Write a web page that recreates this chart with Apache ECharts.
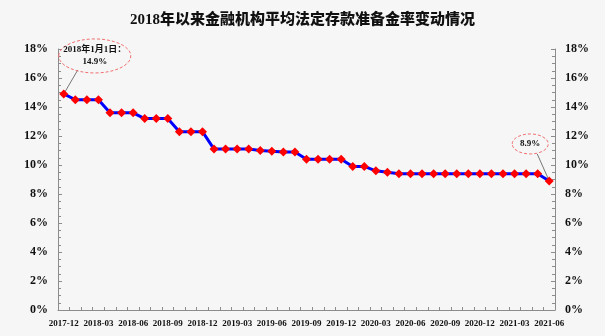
<!DOCTYPE html>
<html>
<head>
<meta charset="utf-8">
<script src="https://cdn.jsdelivr.net/npm/echarts@6/dist/echarts.min.js"></script>
<style>
  html, body { margin: 0; padding: 0; background: #f6f6f6; }
  #chart { width: 605px; height: 336px; }
</style>
</head>
<body>
<div id="chart"></div>
<script>
// Monthly average statutory reserve requirement ratio (%), Dec 2017 – Jun 2021
const months = [
  '2017-12', '2018-01', '2018-02', '2018-03', '2018-04', '2018-05', '2018-06',
  '2018-07', '2018-08', '2018-09', '2018-10', '2018-11', '2018-12',
  '2019-01', '2019-02', '2019-03', '2019-04', '2019-05', '2019-06',
  '2019-07', '2019-08', '2019-09', '2019-10', '2019-11', '2019-12',
  '2020-01', '2020-02', '2020-03', '2020-04', '2020-05', '2020-06',
  '2020-07', '2020-08', '2020-09', '2020-10', '2020-11', '2020-12',
  '2021-01', '2021-02', '2021-03', '2021-04', '2021-05', '2021-06'
];
const rrr = [
  14.9,
  14.5, 14.5, 14.5,
  13.6, 13.6, 13.6,
  13.2, 13.2, 13.2,
  12.3, 12.3, 12.3,
  11.1, 11.1, 11.1, 11.1,
  11.0, 10.95, 10.9, 10.9,
  10.4, 10.4, 10.4, 10.4,
  9.9, 9.9, 9.6, 9.5, 9.4,
  9.4, 9.4, 9.4, 9.4, 9.4, 9.4,
  9.4, 9.4, 9.4, 9.4, 9.4, 9.4,
  8.9
];
const yTicks = { min: 0, max: 18, step: 2 };
const titleText = '2018年以来金融机构平均法定存款准备金率变动情况';
const firstNote = '2018年1月1日：\n14.9%';
const lastNote = '8.9%';

const serif = '"Liberation Serif", "Times New Roman", "Noto Sans CJK SC", serif';
const axisGray = '#8c8c8c';

function valueAxis(pos) {
  return {
    type: 'value',
    position: pos,
    min: yTicks.min,
    max: yTicks.max,
    interval: yTicks.step,
    axisLine: { show: true, lineStyle: { color: axisGray, width: 1 } },
    axisTick: { show: true, inside: true, length: 4, lineStyle: { color: axisGray } },
    minorTick: { show: true, splitNumber: 4, length: 3, lineStyle: { color: axisGray } },
    splitLine: { show: false },
    axisLabel: {
      formatter: '{value}%',
      color: '#111',
      fontFamily: serif,
      fontSize: 12,
      fontWeight: 'bold',
      margin: 10
    }
  };
}

const chart = echarts.init(document.getElementById('chart'), null, { renderer: 'canvas' });

chart.setOption({
  backgroundColor: '#f6f6f6',
  animation: false,
  title: {
    text: titleText,
    left: 'center',
    top: 8,
    textStyle: { fontFamily: serif, fontSize: 15, fontWeight: 900, color: '#111' }
  },
  grid: { left: 58, right: 50, top: 49, bottom: 26, containLabel: false },
  xAxis: {
    type: 'category',
    data: months,
    boundaryGap: true,
    axisLine: { show: true, lineStyle: { color: axisGray, width: 1 } },
    axisTick: { show: true, inside: true, length: 3, interval: 0, lineStyle: { color: axisGray } },
    axisLabel: {
      interval: 2,
      color: '#111',
      fontFamily: serif,
      fontSize: 9,
      fontWeight: 'bold',
      margin: 9
    }
  },
  yAxis: [valueAxis('left'), valueAxis('right')],
  series: [{
    type: 'line',
    data: rrr,
    yAxisIndex: 0,
    symbol: 'diamond',
    symbolSize: 9,
    showAllSymbol: true,
    lineStyle: { color: '#0000ff', width: 3 },
    itemStyle: { color: '#ff0000', borderWidth: 0 }
  }]
});

// Callout bubbles anchored to the first and last data points
function callout(idx, dx, dy, rx, ry, lx, ly, text) {
  const p = chart.convertToPixel({ seriesIndex: 0 }, [idx, rrr[idx]]);
  const cx = p[0] + dx, cy = p[1] + dy;
  return [
    {
      type: 'line',
      shape: { x1: p[0], y1: p[1], x2: p[0] + lx, y2: p[1] + ly },
      style: { stroke: '#555', lineWidth: 0.8 },
      z: 1
    },
    {
      type: 'ellipse',
      shape: { cx: cx, cy: cy, rx: rx, ry: ry },
      style: { fill: 'rgba(0,0,0,0)', stroke: '#f07070', lineWidth: 1, lineDash: [3, 2] },
      z: 2
    },
    {
      type: 'text',
      x: cx,
      y: cy,
      style: {
        text: text,
        textAlign: 'center',
        textVerticalAlign: 'middle',
        align: 'center',
        verticalAlign: 'middle',
        font: 'bold 9px ' + serif,
        fill: '#111',
        lineHeight: 12
      },
      z: 3
    }
  ];
}

const last = rrr.length - 1;
chart.setOption({
  graphic: [].concat(
    callout(0, 31, -38, 36, 17, 14, -24, firstNote),
    callout(last, -19, -37, 18, 10, -12, -27, lastNote)
  )
});
</script>
</body>
</html>
